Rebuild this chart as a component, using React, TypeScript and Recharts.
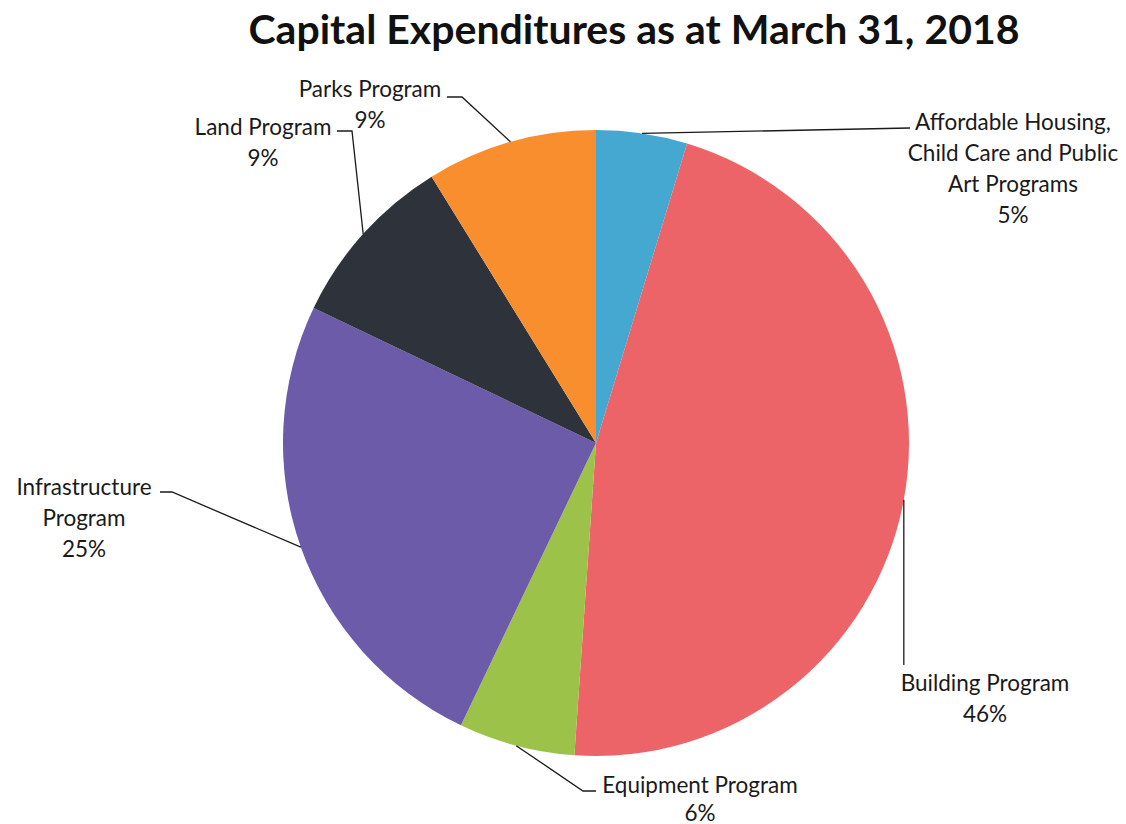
import React from "react";
import { PieChart, Pie, Cell } from "recharts";

const categories = [
  "Affordable Housing, Child Care and Public Art Programs",
  "Building Program",
  "Equipment Program",
  "Infrastructure Program",
  "Land Program",
  "Parks Program",
];
const values = [4.7, 46.4, 6.0, 25.0, 9.1, 8.8];
const labelLines = [
  ["Affordable Housing,", "Child Care and Public", "Art Programs"],
  ["Building Program"],
  ["Equipment Program"],
  ["Infrastructure", "Program"],
  ["Land Program"],
  ["Parks Program"],
];
const colors = ["#45A8D0", "#EC6368", "#9DC24A", "#6B5BA8", "#2E323A", "#F98E2E"];

// layout of labels: text block center x, first line y, line height, leader path bend points
const labelLayout = [
  { tx: 1013, ty: 121, lh: 31, path: [[910, 128]] },
  { tx: 985, ty: 682, lh: 31, path: [["ax", 665]] },
  { tx: 700, ty: 784, lh: 28, path: [[583, 791], [596, 791]] },
  { tx: 84, ty: 486, lh: 31, path: [[172, 492], [160, 492]] },
  { tx: 263, ty: 126, lh: 31, path: [[352, 131], [337, 131]] },
  { tx: 370, ty: 88, lh: 31, path: [[462, 97], [447, 97]] },
];

const data = categories.map((name, i) => ({ name, value: values[i] }));

const FONT = "Lato, 'Open Sans', sans-serif";
const RADIAN = Math.PI / 180;

const renderLabel = (props: any) => {
  const { cx, cy, midAngle, outerRadius, index, percent } = props;
  const ax = cx + outerRadius * Math.cos(-midAngle * RADIAN);
  const ay = cy + outerRadius * Math.sin(-midAngle * RADIAN);
  const lay = labelLayout[index];
  const pts = [[ax, ay], ...lay.path.map((p: any) => [p[0] === "ax" ? ax : p[0], p[1]])];
  const lines = [...labelLines[index], `${Math.round(percent * 100)}%`];
  return (
    <g key={`lbl-${index}`}>
      <polyline
        points={pts.map((p) => p.join(",")).join(" ")}
        fill="none"
        stroke="#1a1a1a"
        strokeWidth={1.3}
      />
      {lines.map((t, j) => (
        <text
          key={j}
          x={lay.tx}
          y={lay.ty + j * lay.lh}
          textAnchor="middle"
          dominantBaseline="central"
          fontFamily={FONT}
          fontSize={22.5}
          fill="#1a1a1a"
        >
          {t}
        </text>
      ))}
    </g>
  );
};

export default function App() {
  return (
    <div style={{ position: "absolute", left: 0, top: 0, width: 1126, height: 824, background: "#fff" }}>
      <PieChart width={1126} height={824} margin={{ top: 0, right: 0, bottom: 0, left: 0 }}>
        <text
          x={634}
          y={44}
          textAnchor="middle"
          fontFamily={FONT}
          fontWeight={700}
          fontSize={41}
          fill="#111"
        >
          Capital Expenditures as at March 31, 2018
        </text>
        <Pie
          data={data}
          dataKey="value"
          nameKey="name"
          cx={596}
          cy={443}
          outerRadius={313}
          startAngle={90}
          endAngle={-270}
          stroke="none"
          label={renderLabel}
          labelLine={false}
          isAnimationActive={false}
        >
          {data.map((d, i) => (
            <Cell key={d.name} fill={colors[i]} />
          ))}
        </Pie>
      </PieChart>
    </div>
  );
}
